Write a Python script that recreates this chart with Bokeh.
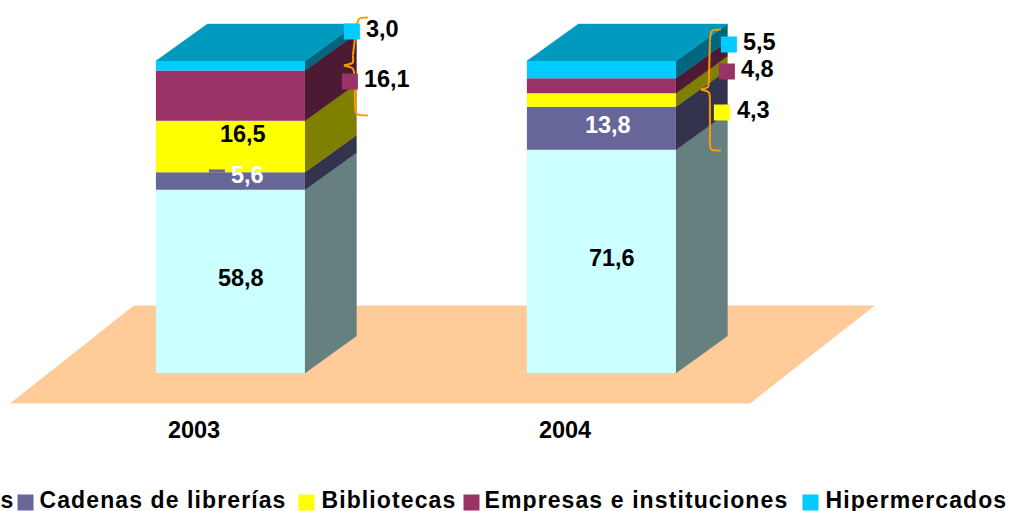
import numpy as np
from bokeh.embed import file_html
from bokeh.layouts import column
from bokeh.models import Range1d
from bokeh.plotting import figure
from bokeh.resources import INLINE
from bokeh.core.properties import value

years = ["2003", "2004"]
series = ["Librerías", "Cadenas de librerías", "Bibliotecas", "Empresas e instituciones", "Hipermercados"]
values_2003 = [58.8, 5.6, 16.5, 16.1, 3.0]
values_2004 = [71.6, 13.8, 4.3, 4.8, 5.5]
labels_2003 = ["58,8", "5,6", "16,5", "16,1", "3,0"]
labels_2004 = ["71,6", "13,8", "4,3", "4,8", "5,5"]
front_colors = ["#CCFFFF", "#666699", "#FFFF00", "#993366", "#00CCFF"]
side_colors = ["#668080", "#33334D", "#808000", "#4D1A33", "#006680"]
top_color = "#009ABF"

W, H = 1010, 511
LEG_H = 31
MAIN_H = H - LEG_H
X0, SP = 230.5, 371.0
Y0, K = 372.6, 3.12
SHIFT = 0.6
def px(v): return (np.asarray(v, float) - X0) / SP
def py(v): return (Y0 - np.asarray(v, float)) / K

p = figure(width=W, height=MAIN_H, output_backend="svg", toolbar_location=None,
           x_range=Range1d(float(px(SHIFT)), float(px(W + SHIFT))), y_range=Range1d(float(py(MAIN_H)), float(py(0))),
           min_border=0, outline_line_color=None, background_fill_color="white", border_fill_color="white")
p.axis.visible = False
p.grid.visible = False

BW = 149 / SP
DX = 51.5 / SP
DY = 37 / K

# floor
p.patch(px([134, 875, 750, 10]), py([305, 305, 403, 403]), fill_color="#FFCC99", line_color=None)

for i, vals in enumerate([values_2003, values_2004]):
    tops = np.cumsum(vals)
    bots = tops - np.array(vals)
    l, r = i - BW / 2, i + BW / 2
    p.patches([[r, r + DX, r + DX, r] for _ in vals],
              [[b, b + DY, t + DY, t] for b, t in zip(bots, tops)],
              fill_color=side_colors, line_color=side_colors, line_width=0.5)
    p.patch([l, r, r + DX, l + DX], [tops[-1], tops[-1], tops[-1] + DY, tops[-1] + DY],
            fill_color=top_color, line_color=top_color, line_width=0.5)
    p.quad(left=l, right=r, bottom=bots, top=tops, fill_color=front_colors, line_color=None)

# braces
brace_a = [(368, 17, 358, 17, 356, 30), (353, 55, 354, 63, 344, 65), (344, 65, 354, 67, 355, 78), (355, 100, 355, 115, 368, 115)]
brace_b = [(721, 29, 711, 29, 710, 40), (709, 80, 709, 87, 701, 89), (701, 89, 710, 91, 710, 100), (710, 140, 710, 150, 721, 150)]
for br in (brace_a, brace_b):
    for a, b, c, d, e, f in br:
        p.bezier(x0=[px(a)], y0=[py(b)], cx0=[px(c)], cy0=[py(d)], cx1=[px(c)], cy1=[py(d)], x1=[px(e)], y1=[py(f)],
                 line_color="#FF9900", line_width=2)
p.line(px([356, 353]), py([30, 55]), line_color="#FF9900", line_width=2)
p.line(px([355, 355]), py([78, 100]), line_color="#FF9900", line_width=2)
p.line(px([710, 709]), py([40, 80]), line_color="#FF9900", line_width=2)
p.line(px([710, 710]), py([100, 140]), line_color="#FF9900", line_width=2)

# value markers
def square(x0, y0, x1, y1, color):
    p.quad(left=px(x0), right=px(x1), bottom=py(y1), top=py(y0), fill_color=color, line_color=None)

square(344, 23, 360, 39, front_colors[4])
square(342, 73, 358, 89, front_colors[3])
square(209, 169, 225, 172, front_colors[1])
square(721, 36, 737, 52, front_colors[4])
square(719, 63, 735, 79, front_colors[3])
square(714, 104, 730, 120, front_colors[2])

# value labels
def lab(x, y, s, color="black"):
    p.text(x=[float(px(x))], y=[float(py(y))], text=[s], text_color=color, text_align="left", text_baseline="middle",
           text_font=value("Liberation Sans"), text_font_style="bold", text_font_size="23.5px")

lab(218, 277, labels_2003[0])
lab(231, 174, labels_2003[1], "white")
lab(220, 133, labels_2003[2])
lab(364, 78, labels_2003[3])
lab(366, 28, labels_2003[4])
lab(589, 257, labels_2004[0])
lab(585, 124, labels_2004[1], "white")
lab(737, 109, labels_2004[2])
lab(741, 68, labels_2004[3])
lab(743, 41, labels_2004[4])

lab(168, 429, years[0])
lab(539, 429, years[1])

# legend strip (its own figure, for the wider letter spacing of the original)
q = figure(width=W, height=LEG_H, output_backend="svg", toolbar_location=None,
           x_range=Range1d(0, W), y_range=Range1d(H, MAIN_H),
           min_border=0, outline_line_color=None, background_fill_color="white", border_fill_color="white")
q.axis.visible = False
q.grid.visible = False
q.styles = {"letter-spacing": "1.1px"}

def leg_text(x, s, align="left"):
    q.text(x=[x], y=[499.5], text=[s], text_color="black", text_align=align, text_baseline="middle",
           text_font=value("Liberation Sans"), text_font_style="bold", text_font_size="23px")

leg_text(4, series[0], "right")
for name, color, sx, tx in zip(series[1:], front_colors[1:], [17, 298, 463, 802], [39, 321, 484, 825]):
    q.quad(left=sx, right=sx + 16, bottom=510, top=494, fill_color=color, line_color=None)
    leg_text(tx, name)

open("out.html", "w").write(file_html(column(p, q, spacing=0), INLINE))
